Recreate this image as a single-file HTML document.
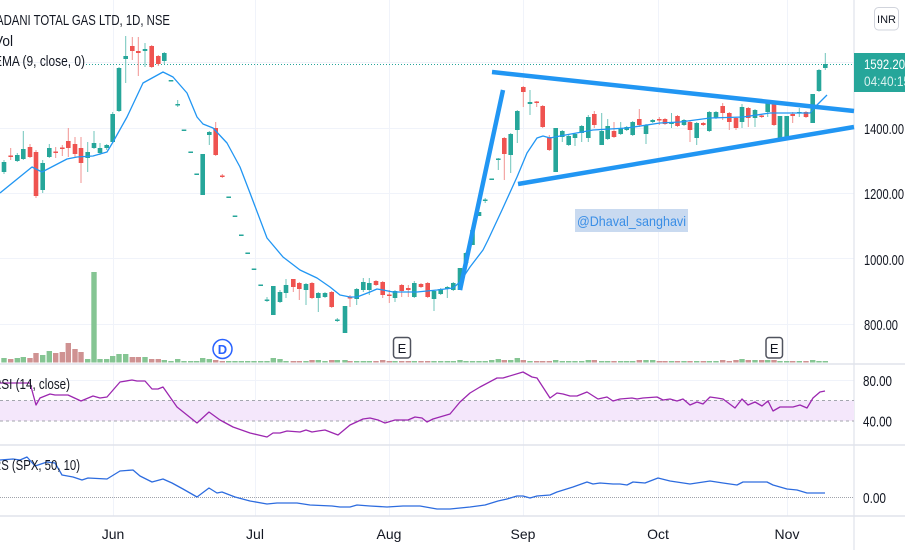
<!DOCTYPE html>
<html><head><meta charset="utf-8"><style>
html,body{margin:0;padding:0;background:#fff;}
body{width:905px;height:550px;overflow:hidden;}
svg{display:block;font-family:"Liberation Sans",sans-serif;}
</style></head><body>
<svg width="905" height="550" viewBox="0 0 905 550" xmlns="http://www.w3.org/2000/svg">
<rect width="905" height="550" fill="#fff"/>
<!-- grid -->
<g stroke="#f0f3fa" stroke-width="1">
<line x1="113.5" y1="0" x2="113.5" y2="516"/><line x1="255.5" y1="0" x2="255.5" y2="516"/><line x1="389.5" y1="0" x2="389.5" y2="516"/><line x1="523.5" y1="0" x2="523.5" y2="516"/><line x1="658.5" y1="0" x2="658.5" y2="516"/><line x1="787.5" y1="0" x2="787.5" y2="516"/>
<line x1="0" y1="62.5" x2="854" y2="62.5"/><line x1="0" y1="128.5" x2="854" y2="128.5"/><line x1="0" y1="193.5" x2="854" y2="193.5"/><line x1="0" y1="258.5" x2="854" y2="258.5"/><line x1="0" y1="324.5" x2="854" y2="324.5"/>
<line x1="0" y1="380.5" x2="854" y2="380.5"/>
</g>
<!-- separators -->
<g stroke="#e0e3eb" stroke-width="1.5">
<line x1="0" y1="364" x2="905" y2="364"/><line x1="0" y1="445" x2="905" y2="445"/><line x1="0" y1="516" x2="905" y2="516"/>
</g>
<line x1="854" y1="0" x2="854" y2="550" stroke="#e0e3eb" stroke-width="1.2"/>
<!-- price dotted line -->
<line x1="86" y1="64.5" x2="854" y2="64.5" stroke="#26a69a" stroke-width="1" stroke-dasharray="1 2"/>
<!-- volume -->
<g fill="#85c593">
<rect x="1.3" y="358" width="5.4" height="4.5"/><rect x="14.6" y="358" width="5.4" height="4.5"/><rect x="20.6" y="357" width="5.4" height="5.5"/><rect x="40" y="355" width="5.4" height="7.5"/><rect x="46.6" y="351" width="5.4" height="11.5"/><rect x="85" y="359" width="5.4" height="3.5"/><rect x="91.3" y="272" width="5.4" height="90.5"/><rect x="97.3" y="359" width="5.4" height="3.5"/><rect x="104" y="359" width="5.4" height="3.5"/><rect x="110" y="356" width="5.4" height="6.5"/><rect x="116.3" y="354" width="5.4" height="8.5"/><rect x="123" y="354" width="5.4" height="8.5"/><rect x="142.3" y="357" width="5.4" height="5.5"/><rect x="161.6" y="360" width="5.4" height="2.5"/><rect x="168.3" y="361" width="5.4" height="1.5"/><rect x="175" y="359" width="5.4" height="3.5"/><rect x="181.3" y="361" width="5.4" height="1.5"/><rect x="188" y="361" width="5.4" height="1.5"/><rect x="194" y="361" width="5.4" height="1.5"/><rect x="200" y="358" width="5.4" height="4.5"/><rect x="206.6" y="359" width="5.4" height="3.5"/><rect x="226" y="361" width="5.4" height="1.5"/><rect x="232.3" y="361" width="5.4" height="1.5"/><rect x="238.6" y="361" width="5.4" height="1.5"/><rect x="245" y="361" width="5.4" height="1.5"/><rect x="251.3" y="361" width="5.4" height="1.5"/><rect x="258" y="361" width="5.4" height="1.5"/><rect x="264.3" y="361" width="5.4" height="1.5"/><rect x="270.6" y="358" width="5.4" height="4.5"/><rect x="277.3" y="359" width="5.4" height="3.5"/><rect x="283.3" y="361" width="5.4" height="1.5"/><rect x="303.3" y="361" width="5.4" height="1.5"/><rect x="315.6" y="360" width="5.4" height="2.5"/><rect x="322.3" y="361" width="5.4" height="1.5"/><rect x="334.6" y="360" width="5.4" height="2.5"/><rect x="342.3" y="360" width="5.4" height="2.5"/><rect x="354" y="361" width="5.4" height="1.5"/><rect x="360.6" y="361" width="5.4" height="1.5"/><rect x="366.6" y="361" width="5.4" height="1.5"/><rect x="392.3" y="361" width="5.4" height="1.5"/><rect x="411.6" y="361" width="5.4" height="1.5"/><rect x="431.3" y="361" width="5.4" height="1.5"/><rect x="438" y="361" width="5.4" height="1.5"/><rect x="444.6" y="361" width="5.4" height="1.5"/><rect x="450.6" y="361" width="5.4" height="1.5"/><rect x="457.3" y="360" width="5.4" height="2.5"/><rect x="463.3" y="361" width="5.4" height="1.5"/><rect x="469.8" y="361" width="5.4" height="1.5"/><rect x="476.3" y="361" width="5.4" height="1.5"/><rect x="482.5" y="361" width="5.4" height="1.5"/><rect x="489" y="360" width="5.4" height="2.5"/><rect x="495.6" y="359" width="5.4" height="3.5"/><rect x="508" y="360" width="5.4" height="2.5"/><rect x="514.6" y="358" width="5.4" height="4.5"/><rect x="527.3" y="361" width="5.4" height="1.5"/><rect x="553" y="360" width="5.4" height="2.5"/><rect x="559.6" y="361" width="5.4" height="1.5"/><rect x="566" y="361" width="5.4" height="1.5"/><rect x="572.3" y="361" width="5.4" height="1.5"/><rect x="579" y="361" width="5.4" height="1.5"/><rect x="585.6" y="360" width="5.4" height="2.5"/><rect x="599" y="361" width="5.4" height="1.5"/><rect x="605" y="361" width="5.4" height="1.5"/><rect x="618" y="361" width="5.4" height="1.5"/><rect x="624" y="361" width="5.4" height="1.5"/><rect x="630" y="361" width="5.4" height="1.5"/><rect x="643.3" y="360" width="5.4" height="2.5"/><rect x="650" y="360" width="5.4" height="2.5"/><rect x="668.8" y="361" width="5.4" height="1.5"/><rect x="681.3" y="361" width="5.4" height="1.5"/><rect x="694" y="361" width="5.4" height="1.5"/><rect x="706.6" y="361" width="5.4" height="1.5"/><rect x="713.3" y="361" width="5.4" height="1.5"/><rect x="739.3" y="359" width="5.4" height="3.5"/><rect x="752.3" y="360" width="5.4" height="2.5"/><rect x="765" y="360" width="5.4" height="2.5"/><rect x="777.3" y="361" width="5.4" height="1.5"/><rect x="784" y="361" width="5.4" height="1.5"/><rect x="796.6" y="361" width="5.4" height="1.5"/><rect x="810" y="360" width="5.4" height="2.5"/><rect x="816.3" y="361" width="5.4" height="1.5"/><rect x="822.6" y="361" width="5.4" height="1.5"/>
</g>
<g fill="#cf9292">
<rect x="8" y="359" width="5.4" height="3.5"/><rect x="27.3" y="358" width="5.4" height="4.5"/><rect x="33.3" y="353" width="5.4" height="9.5"/><rect x="53" y="353" width="5.4" height="9.5"/><rect x="59.6" y="352" width="5.4" height="10.5"/><rect x="65.6" y="343" width="5.4" height="19.5"/><rect x="72.3" y="349" width="5.4" height="13.5"/><rect x="78.3" y="352" width="5.4" height="10.5"/><rect x="129.6" y="357" width="5.4" height="5.5"/><rect x="135.6" y="357" width="5.4" height="5.5"/><rect x="149" y="359" width="5.4" height="3.5"/><rect x="155.6" y="359" width="5.4" height="3.5"/><rect x="213" y="360" width="5.4" height="2.5"/><rect x="219.6" y="361" width="5.4" height="1.5"/><rect x="290.6" y="361" width="5.4" height="1.5"/><rect x="296.6" y="361" width="5.4" height="1.5"/><rect x="309.3" y="360" width="5.4" height="2.5"/><rect x="329" y="360" width="5.4" height="2.5"/><rect x="347.3" y="361" width="5.4" height="1.5"/><rect x="373.3" y="361" width="5.4" height="1.5"/><rect x="380" y="360" width="5.4" height="2.5"/><rect x="386.6" y="361" width="5.4" height="1.5"/><rect x="399" y="361" width="5.4" height="1.5"/><rect x="405.6" y="361" width="5.4" height="1.5"/><rect x="418.3" y="361" width="5.4" height="1.5"/><rect x="425" y="361" width="5.4" height="1.5"/><rect x="501.6" y="360" width="5.4" height="2.5"/><rect x="520.6" y="360" width="5.4" height="2.5"/><rect x="534" y="361" width="5.4" height="1.5"/><rect x="540" y="361" width="5.4" height="1.5"/><rect x="546.6" y="361" width="5.4" height="1.5"/><rect x="591.6" y="360" width="5.4" height="2.5"/><rect x="611.3" y="361" width="5.4" height="1.5"/><rect x="636.6" y="360" width="5.4" height="2.5"/><rect x="656.6" y="361" width="5.4" height="1.5"/><rect x="662.3" y="361" width="5.4" height="1.5"/><rect x="674.8" y="361" width="5.4" height="1.5"/><rect x="687.3" y="361" width="5.4" height="1.5"/><rect x="700.6" y="361" width="5.4" height="1.5"/><rect x="720" y="360" width="5.4" height="2.5"/><rect x="726.6" y="361" width="5.4" height="1.5"/><rect x="733.3" y="360" width="5.4" height="2.5"/><rect x="745.6" y="360" width="5.4" height="2.5"/><rect x="759" y="360" width="5.4" height="2.5"/><rect x="771.3" y="360" width="5.4" height="2.5"/><rect x="790" y="361" width="5.4" height="1.5"/><rect x="803.3" y="361" width="5.4" height="1.5"/>
</g>
<!-- wicks green -->
<g stroke="#6fc4bb" stroke-width="1">
<line x1="4" y1="160" x2="4" y2="174"/><line x1="17.3" y1="153" x2="17.3" y2="162"/><line x1="23.3" y1="131" x2="23.3" y2="160"/><line x1="42.7" y1="160" x2="42.7" y2="193"/><line x1="49.3" y1="144" x2="49.3" y2="158"/><line x1="87.7" y1="142" x2="87.7" y2="172"/><line x1="94" y1="131" x2="94" y2="149"/><line x1="100" y1="143" x2="100" y2="155"/><line x1="106.7" y1="144" x2="106.7" y2="150"/><line x1="112.7" y1="112" x2="112.7" y2="143"/><line x1="119" y1="67" x2="119" y2="112"/><line x1="125.7" y1="36" x2="125.7" y2="83"/><line x1="145" y1="43" x2="145" y2="67"/><line x1="164.3" y1="52" x2="164.3" y2="64"/><line x1="177.7" y1="100" x2="177.7" y2="107"/><line x1="209.3" y1="131" x2="209.3" y2="145"/><line x1="267" y1="297" x2="267" y2="302"/><line x1="280" y1="290" x2="280" y2="303"/><line x1="286" y1="279" x2="286" y2="298"/><line x1="306" y1="283" x2="306" y2="305"/><line x1="318.3" y1="292" x2="318.3" y2="312"/><line x1="325" y1="292" x2="325" y2="298"/><line x1="337.3" y1="318" x2="337.3" y2="322"/><line x1="356.7" y1="288" x2="356.7" y2="305"/><line x1="363.3" y1="278" x2="363.3" y2="292"/><line x1="369.3" y1="278" x2="369.3" y2="295"/><line x1="395" y1="290" x2="395" y2="302"/><line x1="414.3" y1="281" x2="414.3" y2="298"/><line x1="434" y1="290" x2="434" y2="311"/><line x1="440.7" y1="288" x2="440.7" y2="295"/><line x1="447.3" y1="286" x2="447.3" y2="298"/><line x1="453.3" y1="282" x2="453.3" y2="291"/><line x1="466" y1="252" x2="466" y2="264"/><line x1="485.2" y1="198" x2="485.2" y2="203"/><line x1="498.3" y1="158" x2="498.3" y2="170"/><line x1="510.7" y1="133" x2="510.7" y2="173"/><line x1="517.3" y1="110" x2="517.3" y2="143"/><line x1="530" y1="90" x2="530" y2="115"/><line x1="562.3" y1="130" x2="562.3" y2="142"/><line x1="568.7" y1="135" x2="568.7" y2="146"/><line x1="575" y1="133" x2="575" y2="146"/><line x1="581.7" y1="125" x2="581.7" y2="142"/><line x1="588.3" y1="115" x2="588.3" y2="142"/><line x1="601.7" y1="113" x2="601.7" y2="145"/><line x1="607.7" y1="119" x2="607.7" y2="140"/><line x1="620.7" y1="122" x2="620.7" y2="135"/><line x1="626.7" y1="126" x2="626.7" y2="131"/><line x1="632.7" y1="121" x2="632.7" y2="136"/><line x1="646" y1="124" x2="646" y2="144"/><line x1="652.7" y1="119" x2="652.7" y2="123"/><line x1="671.5" y1="113" x2="671.5" y2="128"/><line x1="684" y1="119" x2="684" y2="126"/><line x1="696.7" y1="122" x2="696.7" y2="145"/><line x1="709.3" y1="111" x2="709.3" y2="132"/><line x1="716" y1="111" x2="716" y2="119"/><line x1="742" y1="104" x2="742" y2="128"/><line x1="755" y1="109" x2="755" y2="127"/><line x1="767.7" y1="102" x2="767.7" y2="117"/><line x1="799.3" y1="108" x2="799.3" y2="117"/><line x1="819" y1="69" x2="819" y2="92"/><line x1="825.3" y1="53" x2="825.3" y2="70"/>
</g>
<!-- wicks red -->
<g stroke="#f29391" stroke-width="1">
<line x1="10.7" y1="148" x2="10.7" y2="160"/><line x1="30" y1="144" x2="30" y2="158"/><line x1="36" y1="150" x2="36" y2="198"/><line x1="55.7" y1="147" x2="55.7" y2="158"/><line x1="62.3" y1="145" x2="62.3" y2="156"/><line x1="68.3" y1="128" x2="68.3" y2="157"/><line x1="75" y1="137" x2="75" y2="157"/><line x1="81" y1="137" x2="81" y2="183"/><line x1="132.3" y1="37" x2="132.3" y2="60"/><line x1="138.3" y1="37" x2="138.3" y2="76"/><line x1="151.7" y1="45" x2="151.7" y2="68"/><line x1="158.3" y1="55" x2="158.3" y2="66"/><line x1="215.7" y1="122" x2="215.7" y2="156"/><line x1="222.3" y1="174" x2="222.3" y2="178"/><line x1="293.3" y1="279" x2="293.3" y2="292"/><line x1="299.3" y1="282" x2="299.3" y2="300"/><line x1="312" y1="282" x2="312" y2="299"/><line x1="331.7" y1="291" x2="331.7" y2="308"/><line x1="350" y1="295" x2="350" y2="307"/><line x1="376" y1="280" x2="376" y2="286"/><line x1="382.7" y1="281" x2="382.7" y2="298"/><line x1="389.3" y1="290" x2="389.3" y2="303"/><line x1="401.7" y1="284" x2="401.7" y2="297"/><line x1="408.3" y1="285" x2="408.3" y2="297"/><line x1="421" y1="283" x2="421" y2="288"/><line x1="427.7" y1="282" x2="427.7" y2="298"/><line x1="504.3" y1="137" x2="504.3" y2="180"/><line x1="523.3" y1="86" x2="523.3" y2="107"/><line x1="536.7" y1="101" x2="536.7" y2="107"/><line x1="542.7" y1="105" x2="542.7" y2="128"/><line x1="549.3" y1="135" x2="549.3" y2="151"/><line x1="594.3" y1="111" x2="594.3" y2="128"/><line x1="614" y1="122" x2="614" y2="138"/><line x1="639.3" y1="109" x2="639.3" y2="127"/><line x1="659.3" y1="117" x2="659.3" y2="125"/><line x1="665" y1="118" x2="665" y2="125"/><line x1="677.5" y1="115" x2="677.5" y2="127"/><line x1="690" y1="121" x2="690" y2="142"/><line x1="703.3" y1="122" x2="703.3" y2="126"/><line x1="722.7" y1="103" x2="722.7" y2="120"/><line x1="729.3" y1="112" x2="729.3" y2="130"/><line x1="736" y1="117" x2="736" y2="130"/><line x1="748.3" y1="107" x2="748.3" y2="127"/><line x1="761.7" y1="115" x2="761.7" y2="118"/><line x1="774" y1="102" x2="774" y2="126"/><line x1="792.7" y1="112" x2="792.7" y2="123"/><line x1="806" y1="111" x2="806" y2="118"/>
</g>
<!-- bodies green -->
<g fill="#26a69a">
<rect x="1.7" y="162" width="4.6" height="10"/><rect x="15" y="155" width="4.6" height="6"/><rect x="21" y="149" width="4.6" height="10"/><rect x="40.4" y="163" width="4.6" height="27"/><rect x="47" y="148" width="4.6" height="9"/><rect x="85.4" y="152" width="4.6" height="6"/><rect x="91.7" y="143" width="4.6" height="5"/><rect x="97.7" y="148" width="4.6" height="5"/><rect x="104.4" y="145" width="4.6" height="3"/><rect x="110.4" y="114" width="4.6" height="28"/><rect x="116.7" y="68" width="4.6" height="43"/><rect x="123.4" y="56" width="4.6" height="3"/><rect x="142.7" y="49" width="4.6" height="2"/><rect x="162" y="53" width="4.6" height="8"/><rect x="168.7" y="80" width="4.6" height="1.5"/><rect x="175.4" y="104" width="4.6" height="1.5"/><rect x="181.7" y="129.5" width="4.6" height="1.5"/><rect x="188.4" y="151.5" width="4.6" height="1.5"/><rect x="194.4" y="173.5" width="4.6" height="1.5"/><rect x="200.4" y="154" width="4.6" height="41"/><rect x="207" y="132" width="4.6" height="3"/><rect x="226.4" y="196.5" width="4.6" height="1.5"/><rect x="232.7" y="215.5" width="4.6" height="1.5"/><rect x="239" y="234.5" width="4.6" height="1.5"/><rect x="245.4" y="252.5" width="4.6" height="1.5"/><rect x="251.7" y="268.5" width="4.6" height="1.5"/><rect x="258.4" y="284.5" width="4.6" height="1.5"/><rect x="264.7" y="299.5" width="4.6" height="1.5"/><rect x="271" y="286" width="4.6" height="29"/><rect x="277.7" y="292" width="4.6" height="10"/><rect x="283.7" y="285" width="4.6" height="8"/><rect x="303.7" y="284" width="4.6" height="6"/><rect x="316" y="293" width="4.6" height="5"/><rect x="322.7" y="293" width="4.6" height="4"/><rect x="335" y="319.5" width="4.6" height="1.5"/><rect x="342.7" y="306" width="4.6" height="27"/><rect x="354.4" y="289" width="4.6" height="10"/><rect x="361" y="282" width="4.6" height="8"/><rect x="367" y="283" width="4.6" height="7"/><rect x="392.7" y="291" width="4.6" height="7"/><rect x="412" y="283" width="4.6" height="14"/><rect x="431.7" y="291" width="4.6" height="8"/><rect x="438.4" y="289" width="4.6" height="5"/><rect x="445" y="287" width="4.6" height="2"/><rect x="451" y="283" width="4.6" height="7"/><rect x="457.7" y="268" width="4.6" height="22"/><rect x="463.7" y="253" width="4.6" height="10"/><rect x="470.2" y="230" width="4.6" height="15"/><rect x="476.7" y="212" width="4.6" height="4"/><rect x="482.9" y="199.5" width="4.6" height="1.5"/><rect x="489.4" y="178.5" width="4.6" height="1.5"/><rect x="496" y="158.5" width="4.6" height="1.5"/><rect x="508.4" y="134" width="4.6" height="21"/><rect x="515" y="111" width="4.6" height="19"/><rect x="527.7" y="102" width="4.6" height="2"/><rect x="553.4" y="128" width="4.6" height="44"/><rect x="560" y="131" width="4.6" height="6"/><rect x="566.4" y="136" width="4.6" height="9"/><rect x="572.7" y="134" width="4.6" height="4"/><rect x="579.4" y="126" width="4.6" height="7"/><rect x="586" y="117" width="4.6" height="21"/><rect x="599.4" y="131" width="4.6" height="14"/><rect x="605.4" y="126" width="4.6" height="13"/><rect x="618.4" y="128" width="4.6" height="6"/><rect x="624.4" y="127" width="4.6" height="3"/><rect x="630.4" y="122" width="4.6" height="13"/><rect x="643.7" y="125" width="4.6" height="9"/><rect x="650.4" y="120" width="4.6" height="2"/><rect x="669.2" y="122" width="4.6" height="2"/><rect x="681.7" y="120" width="4.6" height="5"/><rect x="694.4" y="123" width="4.6" height="15"/><rect x="707" y="112" width="4.6" height="19"/><rect x="713.7" y="112" width="4.6" height="6"/><rect x="739.7" y="107" width="4.6" height="15"/><rect x="752.7" y="110" width="4.6" height="8"/><rect x="765.4" y="103" width="4.6" height="9"/><rect x="777.7" y="116" width="4.6" height="22"/><rect x="784.4" y="116" width="4.6" height="21"/><rect x="797" y="112" width="4.6" height="1.5"/><rect x="810.4" y="94" width="4.6" height="29"/><rect x="816.7" y="70" width="4.6" height="21"/><rect x="823" y="64" width="4.6" height="4"/>
</g>
<!-- bodies red -->
<g fill="#ef5350">
<rect x="8.4" y="155.5" width="4.6" height="1.5"/><rect x="27.7" y="147" width="4.6" height="10"/><rect x="33.7" y="152" width="4.6" height="44"/><rect x="53.4" y="151.5" width="4.6" height="1.5"/><rect x="60" y="147.5" width="4.6" height="1.5"/><rect x="66" y="141" width="4.6" height="7"/><rect x="72.7" y="144" width="4.6" height="10"/><rect x="78.7" y="148" width="4.6" height="15"/><rect x="130" y="46" width="4.6" height="5"/><rect x="136" y="51" width="4.6" height="2"/><rect x="149.4" y="46" width="4.6" height="21"/><rect x="156" y="56" width="4.6" height="8"/><rect x="213.4" y="128" width="4.6" height="27"/><rect x="220" y="175.5" width="4.6" height="1.5"/><rect x="291" y="279" width="4.6" height="8"/><rect x="297" y="283" width="4.6" height="6"/><rect x="309.7" y="283" width="4.6" height="15"/><rect x="329.4" y="292" width="4.6" height="15"/><rect x="347.7" y="297" width="4.6" height="1.5"/><rect x="373.7" y="281" width="4.6" height="4"/><rect x="380.4" y="282" width="4.6" height="13"/><rect x="387" y="294.5" width="4.6" height="1.5"/><rect x="399.4" y="285" width="4.6" height="6"/><rect x="406" y="288" width="4.6" height="2"/><rect x="418.7" y="284" width="4.6" height="3"/><rect x="425.4" y="283" width="4.6" height="14"/><rect x="502" y="138" width="4.6" height="16"/><rect x="521" y="87" width="4.6" height="5"/><rect x="534.4" y="101.5" width="4.6" height="1.5"/><rect x="540.4" y="106" width="4.6" height="21"/><rect x="547" y="137" width="4.6" height="13"/><rect x="592" y="114" width="4.6" height="11"/><rect x="611.7" y="131" width="4.6" height="6"/><rect x="637" y="119" width="4.6" height="6"/><rect x="657" y="119" width="4.6" height="1.5"/><rect x="662.7" y="119" width="4.6" height="5"/><rect x="675.2" y="116" width="4.6" height="10"/><rect x="687.7" y="122" width="4.6" height="8"/><rect x="701" y="123" width="4.6" height="2"/><rect x="720.4" y="106" width="4.6" height="7"/><rect x="727" y="113" width="4.6" height="9"/><rect x="733.7" y="118" width="4.6" height="10"/><rect x="746" y="108" width="4.6" height="10"/><rect x="759.4" y="115.5" width="4.6" height="1.5"/><rect x="771.7" y="103" width="4.6" height="22"/><rect x="790.4" y="114" width="4.6" height="2"/><rect x="803.7" y="112" width="4.6" height="5"/>
</g>
<!-- EMA -->
<polyline fill="none" stroke="#2196f3" stroke-width="1.3" stroke-linejoin="round" points="0,193 32,167 42,172 67,159 77,157 93,156 107,152 113,142 127,117 143,83 163,72 173,77 187,93 197,117 203,124 213,128 227,143 240,167 250,193 267,238 283,257 300,270 317,278 330,287 340,295 350,297 357,297 370,292 377,289 383,290 393,292 417,292 437,290 453,288 460,282 470,267 483,250 488,240 502,210 517,177 527,153 537,138 543,136 550,138 560,136 593,130 627,128 660,123 680,122 710,118 743,117 770,113 777,113 810,113 817,105 827,95"/>
<!-- trend lines -->
<g stroke="#2196f3" stroke-width="4.5" stroke-linecap="butt">
<line x1="492" y1="72" x2="854" y2="111"/>
<line x1="518" y1="184" x2="854" y2="127"/>
<line x1="460" y1="290" x2="503" y2="90"/>
</g>
<!-- watermark -->
<rect x="575" y="209" width="113" height="23" fill="#c9daf0"/>
<text x="577" y="226" font-size="14" fill="#3a8ee6" textLength="109" lengthAdjust="spacingAndGlyphs">@Dhaval_sanghavi</text>
<!-- markers -->
<circle cx="222.5" cy="349" r="9.5" fill="#fff" stroke="#2962ff" stroke-width="1.5"/>
<text x="222.5" y="354" font-size="13" font-weight="bold" fill="#2962ff" text-anchor="middle">D</text>
<rect x="393.5" y="337.5" width="17" height="20.5" rx="3" fill="#fff" stroke="#50535e" stroke-width="1.5"/>
<text x="402" y="353" font-size="13" fill="#131722" text-anchor="middle">E</text>
<rect x="766" y="337.5" width="16.5" height="20.5" rx="3" fill="#fff" stroke="#50535e" stroke-width="1.5"/>
<text x="774.2" y="353" font-size="13" fill="#131722" text-anchor="middle">E</text>
<!-- RSI pane -->
<rect x="0" y="400.5" width="854" height="20.5" fill="#f4e7fb"/>
<g stroke="#a3a6ae" stroke-width="1" stroke-dasharray="3 3">
<line x1="0" y1="400.5" x2="854" y2="400.5"/><line x1="0" y1="421" x2="854" y2="421"/>
</g>
<polyline fill="none" stroke="#9c27b0" stroke-width="1.3" stroke-linejoin="round" points="0,383 10,383 30,383 36,405 40,398 50,394 55,395 68,395 81,401 93,396 100,398 107,397 120,382 132,380 137,381 145,381 152,389 158,389 163,387 177,407 187,415 197,423 209,412 220,420 233,427 250,433 267,437 273,433 280,433 287,431 300,432 306,430 312,432 318,431 325,430 338,435 350,425 363,419 370,418 378,420 385,423 395,420 408,420 415,417 422,418 427,422 433,419 450,414 460,402 470,393 480,387 497,378 503,378 523,372 532,377 537,378 550,398 557,393 563,394 570,396 577,396 587,392 598,399 607,397 613,401 620,399 632,398 637,399 643,398 657,397 663,400 670,399 677,401 683,399 690,405 697,402 703,404 710,397 717,398 723,399 735,408 742,399 748,405 755,402 762,406 768,401 773,411 780,407 793,407 800,405 807,408 813,398 820,392 825,391"/>
<!-- RS pane -->
<line x1="0" y1="497.5" x2="854" y2="497.5" stroke="#a0a3ab" stroke-width="1" stroke-dasharray="1 1"/>
<polyline fill="none" stroke="#2d6cdf" stroke-width="1.3" stroke-linejoin="round" points="0,460 13,459 20,460 27,457 35,466 47,462 55,463 62,475 73,477 82,480 88,478 107,479 120,471 133,470 140,476 152,482 163,479 172,483 183,489 197,497 209,488 217,493 222,492 235,497 250,501 267,504 277,503 297,503 310,505 332,506 340,507 350,507 357,505 370,506 387,507 403,506 420,506 437,509 450,509 470,507 485,505 498,501 507,499 517,496 523,496 530,498 537,496 550,495 557,492 573,487 587,482 593,484 600,483 613,484 620,484 627,485 633,482 645,483 658,478 670,481 690,484 710,481 723,483 737,485 743,482 757,482 767,482 773,485 787,489 797,490 807,493 817,493 825,493"/>
<!-- legends -->
<g fill="#131722">
<text x="-4" y="25" font-size="14.5" textLength="174" lengthAdjust="spacingAndGlyphs">ADANI TOTAL GAS LTD, 1D, NSE</text>
<text x="-6" y="46" font-size="14.5" textLength="19" lengthAdjust="spacingAndGlyphs">Vol</text>
<text x="-6" y="66" font-size="14.5" textLength="91" lengthAdjust="spacingAndGlyphs">EMA (9, close, 0)</text>
<text x="-7" y="389" font-size="14.5" textLength="77" lengthAdjust="spacingAndGlyphs">RSI (14, close)</text>
<text x="-7" y="470" font-size="14.5" textLength="87" lengthAdjust="spacingAndGlyphs">RS (SPX, 50, 10)</text>
</g>
<!-- right axis -->
<g fill="#131722" font-size="15">
<text x="864" y="134" textLength="40" lengthAdjust="spacingAndGlyphs">1400.00</text>
<text x="864" y="199" textLength="40" lengthAdjust="spacingAndGlyphs">1200.00</text>
<text x="864" y="265" textLength="40" lengthAdjust="spacingAndGlyphs">1000.00</text>
<text x="864" y="330" textLength="34" lengthAdjust="spacingAndGlyphs">800.00</text>
<text x="863" y="386" textLength="29" lengthAdjust="spacingAndGlyphs">80.00</text>
<text x="863" y="426.5" textLength="29" lengthAdjust="spacingAndGlyphs">40.00</text>
<text x="863" y="503" textLength="23" lengthAdjust="spacingAndGlyphs">0.00</text>
</g>
<rect x="854" y="53" width="51" height="39" fill="#26a69a"/>
<text x="864" y="69" font-size="14" fill="#fff" textLength="41" lengthAdjust="spacingAndGlyphs">1592.20</text>
<text x="864" y="86" font-size="14" fill="#d9f2ef" textLength="46" lengthAdjust="spacingAndGlyphs">04:40:15</text>
<rect x="874.5" y="7.5" width="24" height="22.5" rx="4" fill="#fff" stroke="#d1d4dc" stroke-width="1"/>
<text x="886.5" y="23" font-size="11" fill="#131722" text-anchor="middle">INR</text>
<!-- x axis -->
<g fill="#131722" font-size="14" text-anchor="middle">
<text x="113" y="539">Jun</text>
<text x="255" y="539">Jul</text>
<text x="389" y="539">Aug</text>
<text x="523" y="539">Sep</text>
<text x="658" y="539">Oct</text>
<text x="787" y="539">Nov</text>
</g>
</svg>
</body></html>
